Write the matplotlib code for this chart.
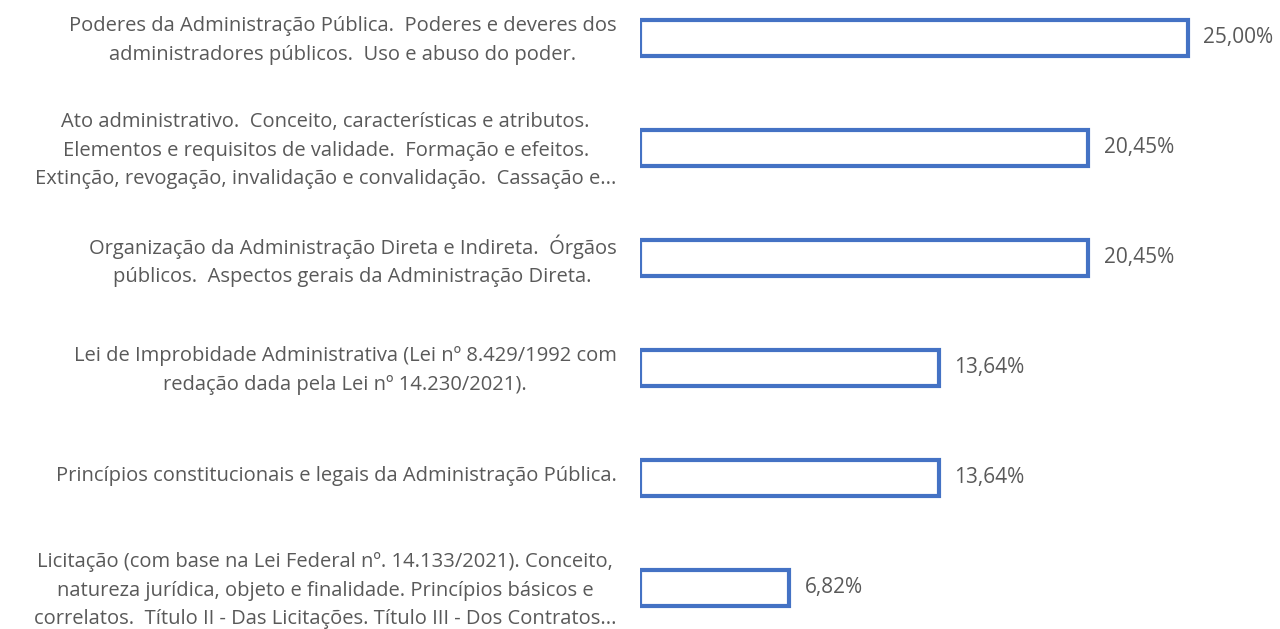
import matplotlib.pyplot as plt
from matplotlib.transforms import ScaledTranslation

# Topics and their share of questions (top to bottom)
topicos = [
    "Poderes da Administração Pública.  Poderes e deveres dos\nadministradores públicos.  Uso e abuso do poder.",
    "Ato administrativo.  Conceito, características e atributos.\nElementos e requisitos de validade.  Formação e efeitos.\nExtinção, revogação, invalidação e convalidação.  Cassação e...",
    "Organização da Administração Direta e Indireta.  Órgãos\npúblicos.  Aspectos gerais da Administração Direta.",
    "Lei de Improbidade Administrativa (Lei nº 8.429/1992 com\nredação dada pela Lei nº 14.230/2021).",
    "Princípios constitucionais e legais da Administração Pública.",
    "Licitação (com base na Lei Federal nº. 14.133/2021). Conceito,\nnatureza jurídica, objeto e finalidade. Princípios básicos e\ncorrelatos.  Título II - Das Licitações. Título III - Dos Contratos...",
]
percentuais = [25.00, 20.45, 20.45, 13.64, 13.64, 6.82]
rotulos = ["25,00%", "20,45%", "20,45%", "13,64%", "13,64%", "6,82%"]

cor_barra = "#4472C4"
cor_texto = "#595959"

plt.rcParams['font.family'] = ['Open Sans', 'DejaVu Sans']

fig = plt.figure(figsize=(12.8, 6.29), dpi=100)
ax = fig.add_axes([0.5, 0.0, 0.5, 1.0])

pos = list(range(len(topicos)))
ax.barh(pos, percentuais, height=0.33, color="white", edgecolor=cor_barra, linewidth=3)

for p, v, r in zip(pos, percentuais, rotulos):
    ax.annotate(r, xy=(v, p), xytext=(11, 0), textcoords="offset points",
                va="center", ha="left", fontsize=15, color=cor_texto)

ax.set_xlim(0, 640 / 21.92)
ax.set_ylim(5.373, -0.345)

ax.set_yticks(pos)
ax.set_yticklabels(topicos, fontsize=14.5, color=cor_texto, linespacing=1.55,
                   multialignment="center")
ax.tick_params(axis="y", length=0, pad=17)
ax.set_xticks([])
for s in ax.spines.values():
    s.set_visible(False)

# nudge the labels up a few pixels so the last one is not clipped
desloc = ScaledTranslation(0, 4 / 100, fig.dpi_scale_trans)
for lbl in ax.get_yticklabels():
    lbl.set_transform(lbl.get_transform() + desloc)

fig.savefig("out.png", dpi=100)
